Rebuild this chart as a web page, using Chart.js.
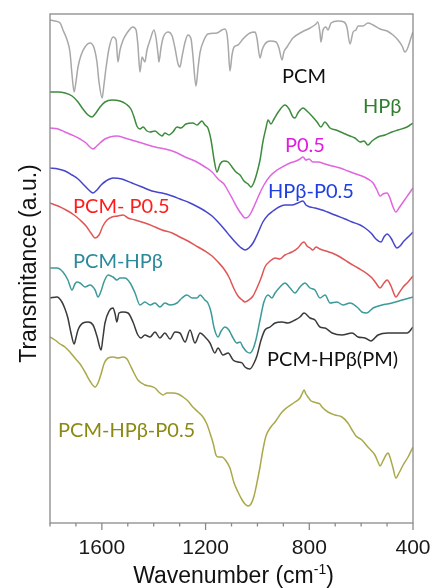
<!DOCTYPE html>
<html>
<head>
<meta charset="utf-8">
<script src="https://cdn.jsdelivr.net/npm/chart.js@4/dist/chart.umd.min.js"></script>
<style>
  html, body { margin: 0; padding: 0; background: #fff; }
  canvas { display: block; }
</style>
</head>
<body>
<canvas id="ftir" width="433" height="588"></canvas>
<script>
// FTIR spectra, stacked with vertical offsets: [wavenumber (cm-1), transmittance (a.u.)]
const pcm = [[1800,100.6],[1781,100.4],[1761,100],[1750,98.6],[1734,96.6],[1723,94.2],[1715,89.6],[1707,86.2],[1700,88.2],[1692,91.2],[1680,93.6],[1665,95.2],[1646,96],[1630,95],[1619,92.2],[1611,88.2],[1599,85],[1592,87.6],[1584,91],[1572,95],[1557,97.2],[1545,96.6],[1538,92.2],[1530,94.6],[1518,96.6],[1503,98],[1480,99.2],[1468,98.6],[1461,95.6],[1453,90.2],[1445,93.2],[1434,92.2],[1426,94.6],[1414,96.6],[1399,98.6],[1391,97],[1383,93.6],[1380,92.2],[1372,95],[1364,97],[1345,98.2],[1329,97.4],[1318,95],[1306,91.8],[1299,91.2],[1291,93.2],[1279,96.2],[1268,97.6],[1256,96.8],[1249,93.6],[1237,87.4],[1229,91],[1221,94.2],[1206,96.6],[1191,97.8],[1156,98],[1137,98.6],[1125,98.8],[1117,97.6],[1113,95.6],[1106,90.4],[1098,93.6],[1090,95.2],[1075,95.6],[1056,96.8],[1029,98],[1009,98.2],[1002,97],[990,93],[982,94.6],[971,95.8],[951,96.4],[928,96.2],[917,95],[905,92.6],[898,94.2],[886,95.2],[863,97],[828,98.2],[797,99],[774,99.8],[767,100.2],[759,98.2],[755,96.2],[747,98.6],[736,99.2],[728,98.6],[716,100],[689,100.4],[666,100.2],[655,99.2],[643,95.8],[631,98.2],[620,98.6],[612,99.4],[593,99.4],[574,100],[554,99.6],[527,98.8],[500,98.4],[477,97.6],[458,96.6],[442,95.4],[431,94.2],[419,95.2],[408,97],[400,98.2]];

const hpb = [[1800,86.2],[1769,86.2],[1742,86],[1715,85.4],[1692,84.2],[1673,82.8],[1653,81.6],[1638,81.2],[1623,82],[1607,83.2],[1588,84.2],[1561,84.6],[1530,84.4],[1507,83.8],[1488,82.8],[1476,81.2],[1465,79.4],[1453,78.8],[1441,79.2],[1426,78.4],[1414,78.2],[1395,78.4],[1380,77.8],[1368,77.4],[1357,78],[1341,77.6],[1326,78.2],[1310,79.2],[1295,79],[1276,79.8],[1249,80],[1233,79.6],[1214,80.4],[1202,79.6],[1191,79],[1179,76.6],[1167,72.6],[1156,70.2],[1144,71.8],[1129,72.4],[1113,72.2],[1098,71.2],[1083,70.2],[1067,69.6],[1052,68.4],[1036,67.8],[1025,67.2],[1013,68.2],[1002,70],[990,72.6],[979,76.2],[967,79],[959,80.6],[948,79.8],[936,80.8],[917,82.4],[894,83.6],[878,82.8],[863,81.2],[855,81],[844,82],[824,83],[809,82.4],[790,81.4],[770,80.2],[755,79.2],[740,80.2],[720,79],[697,78.6],[670,78],[643,77.4],[624,77],[604,76.2],[589,76.4],[574,75.6],[558,76.4],[535,77.2],[508,77.6],[481,78.2],[458,78.6],[423,79.2],[400,80]];

const p05 = [[1800,79],[1769,78.8],[1742,78.2],[1715,77.6],[1684,76.8],[1661,76],[1646,75.2],[1634,74.8],[1623,75.2],[1607,76],[1588,76.8],[1569,77.2],[1542,77.4],[1511,77],[1472,76.4],[1434,75.8],[1395,75.2],[1357,74.8],[1318,74.2],[1279,73.2],[1241,72.4],[1202,71.2],[1175,70.2],[1152,68.8],[1129,67.8],[1113,66.4],[1094,64.6],[1075,62.8],[1059,61.6],[1048,61],[1036,61.2],[1025,62],[1009,63.8],[994,65.6],[975,67.6],[951,69.4],[924,70.6],[897,71.4],[874,72],[851,72.4],[836,72.8],[824,73.2],[813,72.6],[801,72.8],[786,72.2],[766,72.2],[739,71.8],[712,71.4],[681,71],[651,70.4],[620,69.8],[597,69.4],[574,68.8],[554,68],[539,66.6],[527,65.4],[516,65.8],[500,66],[489,65],[477,63.2],[466,62.2],[454,63],[438,64.2],[419,65.6],[400,67]];

const hpbP05 = [[1800,71],[1769,70.8],[1742,70.4],[1715,69.6],[1692,68.8],[1669,67.6],[1650,66.6],[1634,66],[1619,66.6],[1603,67.6],[1584,68.4],[1557,69],[1523,68.8],[1484,68],[1445,67.2],[1407,66.4],[1368,66],[1329,65.4],[1299,64.8],[1260,64],[1229,63.2],[1202,62.4],[1175,61.4],[1152,60.2],[1125,58.6],[1106,57.4],[1086,56.2],[1067,55.2],[1048,54.6],[1033,55],[1017,56],[998,58],[979,60.2],[959,61.6],[940,62.4],[917,63.2],[894,63.6],[867,63.6],[844,64],[824,64.4],[813,63.6],[797,63.2],[778,63],[751,62.6],[701,61.6],[662,60.8],[635,60.2],[604,59.6],[585,59],[562,58],[543,56.8],[523,56.2],[512,57.2],[500,57.8],[485,57],[469,55.4],[462,55],[450,55.4],[435,56.4],[419,57.2],[400,58.2]];

const pcmP05 = [[1800,64],[1769,63.4],[1738,62.6],[1707,61.6],[1684,60.6],[1661,59.4],[1642,58],[1626,57],[1611,57.6],[1596,59.4],[1580,60.6],[1561,61.2],[1538,61.4],[1518,61.6],[1499,61],[1472,60.6],[1434,60],[1395,59.2],[1368,58.6],[1329,58],[1299,57.2],[1268,56.4],[1229,55.2],[1202,54.4],[1175,53.4],[1152,52.2],[1129,50.8],[1110,49.2],[1090,46.8],[1075,45.4],[1059,44.6],[1048,44.2],[1033,44.6],[1017,45.4],[1002,47],[986,49],[971,51.2],[951,52.4],[932,53],[913,52.8],[894,53.6],[867,54.2],[844,55],[828,56],[820,56.2],[809,55.4],[797,55],[786,54.6],[774,55.2],[759,54.8],[736,54.4],[712,54],[681,53.2],[651,52.2],[612,51],[581,50],[558,49],[543,48],[527,47],[512,48],[500,48.6],[485,47.4],[473,45.8],[466,45.2],[454,46],[438,47.2],[419,48.2],[400,49.4]];

const pcmHpb = [[1800,51],[1773,51],[1750,50.2],[1731,48.6],[1715,46.6],[1704,47.8],[1696,48.2],[1684,48],[1665,47.2],[1646,47.6],[1626,46.6],[1615,45.2],[1603,46.4],[1592,48.2],[1576,49.6],[1557,49.2],[1542,48.6],[1530,49],[1511,49],[1491,48],[1472,46],[1453,43.6],[1434,44.2],[1414,43.6],[1395,44],[1376,43.2],[1357,44],[1337,43.6],[1310,44],[1291,45],[1272,45.6],[1252,45],[1233,45],[1221,45.6],[1203,44.6],[1191,44],[1179,42.2],[1167,39],[1152,37.2],[1140,38.4],[1125,39.2],[1110,38.6],[1098,37.4],[1079,36],[1067,36.2],[1056,35.2],[1040,34.2],[1029,34],[1017,34.8],[1006,36.6],[990,40.6],[975,44.2],[959,45.6],[944,45],[932,46],[913,47.2],[894,48],[874,47],[855,46],[836,47.2],[817,48],[797,47],[778,46.6],[759,45],[739,45.6],[720,44],[693,44.2],[670,43.6],[643,44],[616,43.2],[597,42.2],[578,42],[554,43],[520,43.6],[481,44],[442,44.6],[400,45.2]];

const pcmHpbPm = [[1800,45],[1773,45.2],[1754,44.2],[1742,42.8],[1731,41],[1719,38],[1707,35.8],[1700,37],[1692,38.6],[1673,40],[1653,40.2],[1634,39.6],[1619,37.4],[1603,34.6],[1596,37],[1588,40],[1572,42.4],[1557,43],[1549,41.8],[1542,40.2],[1534,42],[1518,42.2],[1499,42],[1480,40.2],[1461,37.6],[1449,37],[1434,37.6],[1414,37.2],[1395,38.2],[1376,37],[1357,38],[1337,36.8],[1318,38.2],[1299,38],[1279,36.2],[1260,38.6],[1241,36],[1221,38],[1202,37.2],[1183,36],[1164,34],[1152,35],[1133,33.6],[1113,34],[1094,32.6],[1075,32.2],[1059,32],[1048,31.2],[1029,30.8],[1013,32],[1002,33.4],[986,36.6],[971,38.6],[951,39.2],[932,40],[905,40.2],[883,40],[855,40.6],[836,41.2],[820,42],[797,41],[778,40.6],[759,39.2],[739,39],[712,38],[674,37.6],[635,38],[612,37.2],[585,37],[562,36.4],[535,37.6],[496,38],[458,38],[423,38],[400,39.2]];

const pcmHpbP05 = [[1800,37.2],[1781,36.6],[1761,35.8],[1742,35.2],[1723,34.2],[1704,33],[1684,31.8],[1665,30.2],[1646,28.4],[1626,27.2],[1615,28],[1603,29.8],[1592,31.8],[1576,33],[1557,33.2],[1538,33],[1518,33.2],[1503,32.8],[1491,31.6],[1476,30],[1461,28.6],[1434,27.6],[1414,27.4],[1395,27],[1376,26],[1364,25.6],[1349,26],[1326,26],[1306,25.8],[1287,25.2],[1268,24.4],[1249,23.2],[1229,22.2],[1210,21.2],[1195,19.8],[1183,18],[1171,16],[1160,13.6],[1152,13.2],[1137,13.2],[1121,12.4],[1106,11],[1090,8],[1075,6.2],[1059,4.6],[1048,3.8],[1036,3.4],[1025,3.8],[1013,5.4],[1002,8],[990,11.2],[979,14.6],[967,17.4],[951,19],[932,20.2],[905,22.2],[883,23.2],[855,24.2],[836,25],[828,25.8],[820,26.6],[813,25.8],[805,25.2],[793,24.4],[782,24.2],[770,24],[759,23.8],[751,23.2],[728,22.2],[701,21.6],[674,21.2],[651,20],[635,18.6],[620,17.4],[597,16.6],[574,15.2],[547,13.6],[535,12.2],[527,11.4],[516,12.4],[504,13.6],[496,14],[489,13.2],[477,11],[466,9],[454,10],[438,11.6],[419,13.2],[400,15.2]];

// sample names, drawn next to each trace
const sampleNames = ['PCM', 'HPβ', 'P0.5', 'HPβ-P0.5', 'PCM- P0.5', 'PCM-HPβ', 'PCM-HPβ(PM)', 'PCM-HPβ-P0.5'];
const spectra = [pcm, hpb, p05, hpbP05, pcmP05, pcmHpb, pcmHpbPm, pcmHpbP05];
const lineColors = ['#a8a8a8', '#3c8c3c', '#e066e0', '#4646cc', '#e05555', '#3d9a9a', '#3a3a3a', '#a9a94a'];
const nameColors = ['#111111', '#2f7f2f', '#e01ee0', '#1f40e0', '#ff1c1c', '#2a8a9a', '#111111', '#8a8a12'];
// where each name sits: [wavenumber, transmittance] of its baseline start
const nameAnchors = [[905, 88], [593, 82], [894, 74.2], [959, 65], [1711, 62], [1711, 51], [963, 31.4], [1769, 17.2]];

// x ticks every 100 cm-1, labelled every 400
const majorTicks = [1600, 1200, 800, 400];

const AXIS_FONT = "'Liberation Sans', Arial, sans-serif";

const decorations = {
  id: 'decorations',
  afterDatasetsDraw(chart) {
    const { ctx, chartArea: a, scales: { x, y } } = chart;
    ctx.save();

    // sample names
    ctx.font = '20px Lato, sans-serif';
    ctx.textAlign = 'left';
    ctx.textBaseline = 'alphabetic';
    sampleNames.forEach((name, i) => {
      ctx.fillStyle = nameColors[i];
      ctx.fillText(name, x.getPixelForValue(nameAnchors[i][0]), y.getPixelForValue(nameAnchors[i][1]));
    });

    // plot frame
    ctx.strokeStyle = '#8a8a8a';
    ctx.lineWidth = 1.3;
    ctx.strokeRect(a.left, a.top, a.right - a.left, a.bottom - a.top);

    // outward tick marks on the wavenumber axis
    x.ticks.forEach(t => {
      const px = x.getPixelForValue(t.value);
      const len = majorTicks.includes(t.value) ? 7 : 3.5;
      ctx.beginPath();
      ctx.moveTo(px, a.bottom);
      ctx.lineTo(px, a.bottom + len);
      ctx.stroke();
    });

    // x title with superscript exponent
    ctx.fillStyle = '#111';
    ctx.textAlign = 'left';
    const main = 'Wavenumber (cm';
    const sup = '-1';
    const tail = ')';
    const mainFont = '23px ' + AXIS_FONT;
    const supFont = '14px ' + AXIS_FONT;
    ctx.font = mainFont;
    const w1 = ctx.measureText(main).width;
    const w3 = ctx.measureText(tail).width;
    ctx.font = supFont;
    const w2 = ctx.measureText(sup).width;
    const cx = (a.left + a.right) / 2 + 2;
    let sx = cx - (w1 + w2 + w3) / 2;
    const base = 583;
    ctx.font = mainFont;
    ctx.fillText(main, sx, base);
    ctx.font = supFont;
    ctx.fillText(sup, sx + w1, base - 9);
    ctx.font = mainFont;
    ctx.fillText(tail, sx + w1 + w2, base);

    // y title
    ctx.save();
    ctx.translate(36, (a.top + a.bottom) / 2 - 5);
    ctx.rotate(-Math.PI / 2);
    ctx.textAlign = 'center';
    ctx.font = '23px ' + AXIS_FONT;
    ctx.fillText('Transmitance (a.u.)', 0, 0);
    ctx.restore();

    ctx.restore();
  }
};

new Chart(document.getElementById('ftir'), {
  type: 'line',
  data: {
    datasets: spectra.map((s, i) => ({
      label: sampleNames[i],
      data: s.map(p => ({ x: p[0], y: p[1] })),
      borderColor: lineColors[i],
      borderWidth: 1.5,
      pointRadius: 0,
      fill: false,
      cubicInterpolationMode: 'monotone'
    }))
  },
  options: {
    responsive: false,
    animation: false,
    layout: { padding: { left: 50, top: 14, right: 20, bottom: 0 } },
    plugins: { legend: { display: false }, tooltip: { enabled: false } },
    scales: {
      x: {
        type: 'linear',
        reverse: true,
        min: 400,
        max: 1800,
        border: { display: false },
        grid: { display: false, drawTicks: false },
        ticks: {
          stepSize: 100,
          autoSkip: false,
          maxRotation: 0,
          padding: 13,
          color: '#1a1a1a',
          font: { family: AXIS_FONT, size: 21 },
          callback: v => (majorTicks.includes(v) ? String(v) : '')
        },
        afterFit(scale) {
          scale.height = 65;
          scale.paddingLeft = 0;
          scale.paddingRight = 0;
        }
      },
      y: {
        display: false,
        min: 0,
        max: 101.8
      }
    }
  },
  plugins: [decorations]
});
</script>
</body>
</html>
